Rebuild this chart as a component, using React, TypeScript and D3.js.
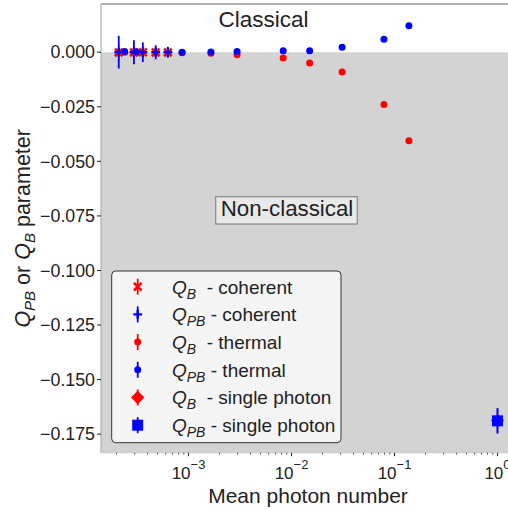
import React from "react";
import * as d3 from "d3";

// ---- data ----
const coherentN = [2.1e-4, 2.95e-4, 3.6e-4, 4.8e-4, 6.3e-4];
const coherentQB = [-0.0001, -0.0001, 0.0, -0.0001, -0.0001];
const coherentQBErr = [0.004, 0.003, 0.0025, 0.002, 0.0015];
const coherentQPB = [0.0, 0.0, 0.0, 0.0, 0.0];
const coherentQPBErr = [0.0075, 0.0055, 0.0045, 0.0032, 0.0025];

const thermalN = [2.4e-4, 3.1e-4, 8.65e-4, 1.65e-3, 2.96e-3, 8.3e-3, 1.5e-2, 3.1e-2, 7.9e-2, 0.138];
const thermalQB = [0.0, -0.0001, -0.0002, -0.0005, -0.0012, -0.0026, -0.0049, -0.0091, -0.0239, -0.0406];
const thermalQPB = [0.0003, 0.0002, 0.0, 0.0001, 0.0003, 0.0007, 0.0007, 0.0023, 0.006, 0.0121];

const singleN = [1.0];
const singleQB = [-0.1688];
const singleQPB = [-0.1689];
const singleErr = [0.0058];

const yTicks = [0.0, -0.025, -0.05, -0.075, -0.1, -0.125, -0.15, -0.175];
const xMajorExp = [-3, -2, -1, 0];

const legendItems = [
  { sym: "x", color: "red", sub: "B", text: "  - coherent" },
  { sym: "+", color: "blue", sub: "PB", text: " - coherent" },
  { sym: "o", color: "red", sub: "B", text: "  - thermal" },
  { sym: "o", color: "blue", sub: "PB", text: " - thermal" },
  { sym: "D", color: "red", sub: "B", text: "  - single photon" },
  { sym: "s", color: "blue", sub: "PB", text: " - single photon" },
];

const W = 508, H = 511;
const L = 101, R = 515, T = 4, B = 452.7;

export default function App() {
  const x = d3.scaleLog().domain([Math.pow(10, -3.85), Math.pow(10, 0.17)]).range([L, R]);
  const y = d3.scaleLinear().domain([-0.1835, 0.0221]).range([B, T]);

  const minor: number[] = [];
  for (let e = -4; e <= 0; e++) {
    for (let k = 2; k <= 9; k++) {
      const v = k * Math.pow(10, e);
      if (x(v) >= L && x(v) <= W) minor.push(v);
    }
  }

  const font = "'Liberation Sans', Arial, sans-serif";

  const marker = (sym: string, color: string, cx: number, cy: number, key: string) => {
    if (sym === "x") {
      const s = 3.8;
      return (
        <path key={key} d={`M${cx - s},${cy - s}L${cx + s},${cy + s}M${cx - s},${cy + s}L${cx + s},${cy - s}`}
          stroke={color} strokeWidth={2.5} fill="none" />
      );
    }
    if (sym === "+") {
      const s = 4.4;
      return (
        <path key={key} d={`M${cx - s},${cy}L${cx + s},${cy}M${cx},${cy - s}L${cx},${cy + s}`}
          stroke={color} strokeWidth={2.4} fill="none" />
      );
    }
    if (sym === "o") return <circle key={key} cx={cx} cy={cy} r={3.5} fill={color} />;
    if (sym === "D") {
      const s = 6.7;
      return <path key={key} d={`M${cx},${cy - s}L${cx + s},${cy}L${cx},${cy + s}L${cx - s},${cy}Z`} fill={color} />;
    }
    const s = 5.5;
    return <rect key={key} x={cx - s} y={cy - s} width={2 * s} height={2 * s} fill={color} />;
  };

  const errBar = (color: string, cx: number, v: number, e: number, key: string, w = 1.8) => (
    <line key={key} x1={cx} x2={cx} y1={y(v - e)} y2={y(v + e)} stroke={color} strokeWidth={w} />
  );

  const legX = 111.7, legY = 271, legW = 229.3, legH = 171.7;
  const rowY0 = 286.7, rowDy = 27.7;

  return (
    <svg width={W} height={H} style={{ position: "absolute", left: 0, top: 0, background: "white" }}
      fontFamily={font}>
      <rect x={0} y={0} width={W} height={H} fill="white" />
      {/* non-classical region */}
      <rect x={L} y={y(0)} width={W - L} height={B - y(0)} fill="#d3d3d3" />
      {/* spines */}
      <line x1={L} x2={W} y1={T} y2={T} stroke="#999" strokeWidth={1.5} />
      <line x1={L} x2={L} y1={T} y2={B} stroke="#bbb" strokeWidth={1.5} />
      <line x1={L} x2={W} y1={B} y2={B} stroke="#c8c8c8" strokeWidth={1} />

      {/* y ticks */}
      {yTicks.map((t) => (
        <g key={"yt" + t}>
          <line x1={L - 4} x2={L} y1={y(t)} y2={y(t)} stroke="#222" strokeWidth={1} />
          <text x={L - 6} y={y(t)} dy="0.35em" textAnchor="end" fontSize={17.8} fill="#222">
            {d3.format(".3f")(t).replace("-", "\u2212")}
          </text>
        </g>
      ))}

      {/* x ticks */}
      {minor.map((v, i) => (
        <line key={"mn" + i} x1={x(v)} x2={x(v)} y1={B} y2={B + 2} stroke="#333" strokeWidth={0.8} />
      ))}
      {xMajorExp.map((e) => {
        const px = x(Math.pow(10, e));
        return (
          <g key={"xt" + e}>
            <line x1={px} x2={px} y1={B} y2={B + 3.5} stroke="#222" strokeWidth={1} />
            <text x={px} y={479} textAnchor="middle" fill="#222">
              <tspan fontSize={17}>10</tspan>
              <tspan fontSize={13} dy={-10}>{e === 0 ? "0" : "\u2212" + Math.abs(e)}</tspan>
            </text>
          </g>
        );
      })}

      {/* axis labels */}
      <text x={(L + R) / 2} y={503} textAnchor="middle" fontSize={21} fill="#222">Mean photon number</text>
      <text transform={`translate(29.5,${(T + B) / 2}) rotate(-90)`} textAnchor="middle" fontSize={21.5} fill="#222">
        <tspan fontStyle="italic">Q</tspan>
        <tspan fontStyle="italic" fontSize={15} dy={5}>PB</tspan>
        <tspan dy={-5}> or </tspan>
        <tspan fontStyle="italic">Q</tspan>
        <tspan fontStyle="italic" fontSize={15} dy={5}>B</tspan>
        <tspan dy={-5}> parameter</tspan>
      </text>

      {/* annotations */}
      <text x={263.5} y={26.7} textAnchor="middle" fontSize={22.5} fill="#222">Classical</text>
      <rect x={215.7} y={196.7} width={141.6} height={27.3} fill="#e9e9e9" stroke="#888" strokeWidth={1.2} />
      <text x={287} y={216} textAnchor="middle" fontSize={22.3} fill="#222">Non-classical</text>

      {/* coherent */}
      {coherentN.map((n, i) => (
        <g key={"cb" + i}>
          {errBar("red", x(n), coherentQB[i], coherentQBErr[i], "e", 1.2)}
          {marker("x", "red", x(n), y(coherentQB[i]), "m")}
        </g>
      ))}
      {coherentN.map((n, i) => (
        <g key={"cp" + i}>
          {errBar("blue", x(n), coherentQPB[i], coherentQPBErr[i], "e")}
          {marker("+", "blue", x(n), y(coherentQPB[i]), "m")}
        </g>
      ))}
      {/* thermal */}
      {thermalN.map((n, i) => marker("o", "red", x(n), y(thermalQB[i]), "tb" + i))}
      {thermalN.map((n, i) => marker("o", "blue", x(n), y(thermalQPB[i]), "tp" + i))}
      {/* single photon */}
      {singleN.map((n, i) => (
        <g key={"sb" + i}>
          {errBar("red", x(n), singleQB[i], singleErr[i] * 0.9, "e", 1.0)}
          {marker("D", "red", x(n), y(singleQB[i]), "m")}
        </g>
      ))}
      {singleN.map((n, i) => (
        <g key={"sp" + i}>
          {errBar("blue", x(n), singleQPB[i], singleErr[i], "e", 2)}
          {marker("s", "blue", x(n), y(singleQPB[i]), "m")}
        </g>
      ))}

      {/* legend */}
      <rect x={legX} y={legY} width={legW} height={legH} rx={4} fill="#f5f5f5" stroke="#333" strokeWidth={1} />
      {legendItems.map((it, i) => {
        const cy = rowY0 + i * rowDy;
        const mx = 137.7;
        return (
          <g key={"lg" + i}>
            <line x1={mx} x2={mx} y1={cy - 8} y2={cy + 8} stroke={it.color} strokeWidth={1.8} />
            {marker(it.sym, it.color, mx, cy, "lm")}
            <text x={172} y={cy} dy="0.36em" fontSize={19} fill="#222" style={{ whiteSpace: "pre" }}>
              <tspan fontStyle="italic">Q</tspan>
              <tspan fontStyle="italic" fontSize={14} dy={5}>{it.sub}</tspan>
              <tspan dy={-5}>{it.text}</tspan>
            </text>
          </g>
        );
      })}
    </svg>
  );
}
